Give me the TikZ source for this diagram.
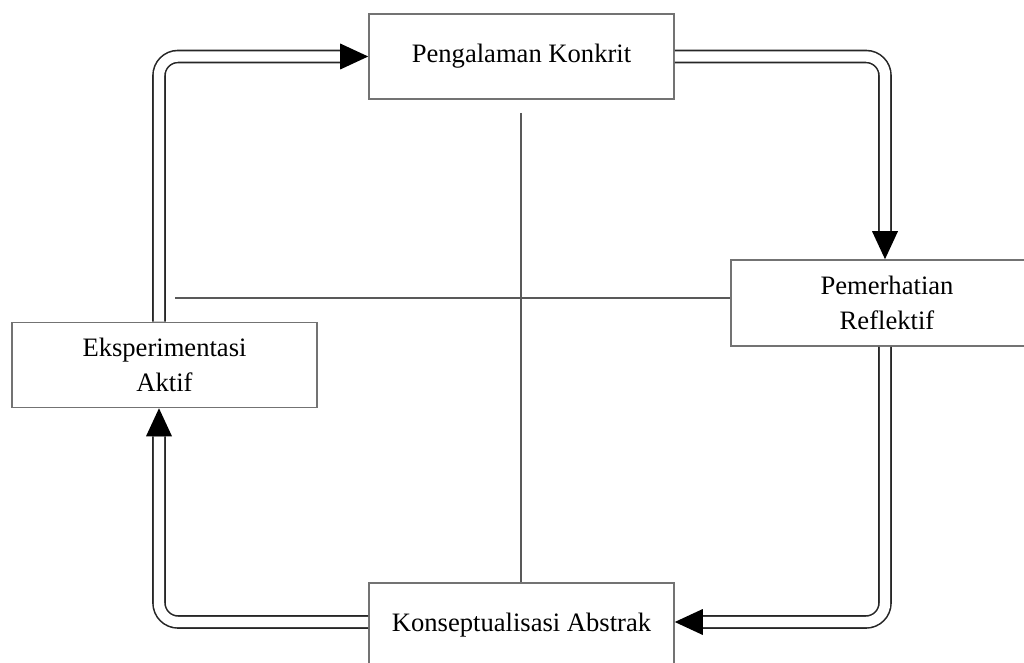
\documentclass[tikz,border=0pt]{standalone}
\usepackage{fontspec}
\setmainfont{Liberation Serif}
\usetikzlibrary{calc}
\begin{document}
\begin{tikzpicture}[x=0.5pt,y=-0.5pt,
  stage/.style={draw=black!55, line width=0.8pt, fill=white, align=center,
    font=\fontsize{13.3pt}{17.5pt}\selectfont, inner sep=0pt},
  flow/.style={draw=black!85, line width=0.8pt, double=white, double distance=5.2pt,
    rounded corners=9.5pt},
  tip/.style={fill=black},
  axis/.style={draw=black!65, line width=0.6pt}]
\useasboundingbox (0,0) rectangle (1024,663);

% axes of the cycle
\coordinate (hl) at (175,298);
\coordinate (vt) at (521,113);

% the four stages
\node[stage, minimum width=152.5pt, minimum height=42.5pt] (pk) at (521.5,56.5) {Pengalaman Konkrit};
\node[stage, minimum width=156pt, minimum height=43pt] (pm) at (887,303) {Pemerhatian\\Reflektif};
\node[stage, minimum width=152.5pt, minimum height=42.5pt] (ek) at (164.5,365) {Eksperimentasi\\Aktif};
\node[stage, minimum width=152.5pt, minimum height=42.5pt] (kb) at (521.5,625.5) {Konseptualisasi Abstrak};

\draw[axis] (hl) -- (hl -| pm.west);
\draw[axis] (vt) -- (vt |- kb.north);

% columns and row of the double connectors
\coordinate (xl) at (159,0);
\coordinate (xr) at (885,0);
\coordinate (yb) at (0,622);

% arrow bases
\coordinate (a1) at ($(pk.west)+(-28,0)$);
\coordinate (a2) at ($(pm.north -| xr)+(0,-28)$);
\coordinate (a3) at ($(kb.east |- yb)+(28,0)$);
\coordinate (a4) at ($(ek.south -| xl)+(0,28)$);

% Eksperimentasi -> Pengalaman
\draw[flow] (ek.north -| xl) |- (a1);
\fill[tip] (pk.west) -- ($(a1)+(0,-13)$) -- ($(a1)+(0,13)$) -- cycle;
% Pengalaman -> Pemerhatian
\draw[flow] (pk.east) -| (a2);
\fill[tip] (pm.north -| xr) -- ($(a2)+(-13,0)$) -- ($(a2)+(13,0)$) -- cycle;
% Pemerhatian -> Konseptualisasi
\draw[flow] (pm.south -| xr) |- (a3);
\fill[tip] (kb.east |- yb) -- ($(a3)+(0,-13)$) -- ($(a3)+(0,13)$) -- cycle;
% Konseptualisasi -> Eksperimentasi
\draw[flow] (kb.west |- yb) -| (a4);
\fill[tip] (ek.south -| xl) -- ($(a4)+(-13,0)$) -- ($(a4)+(13,0)$) -- cycle;
\end{tikzpicture}
\end{document}
